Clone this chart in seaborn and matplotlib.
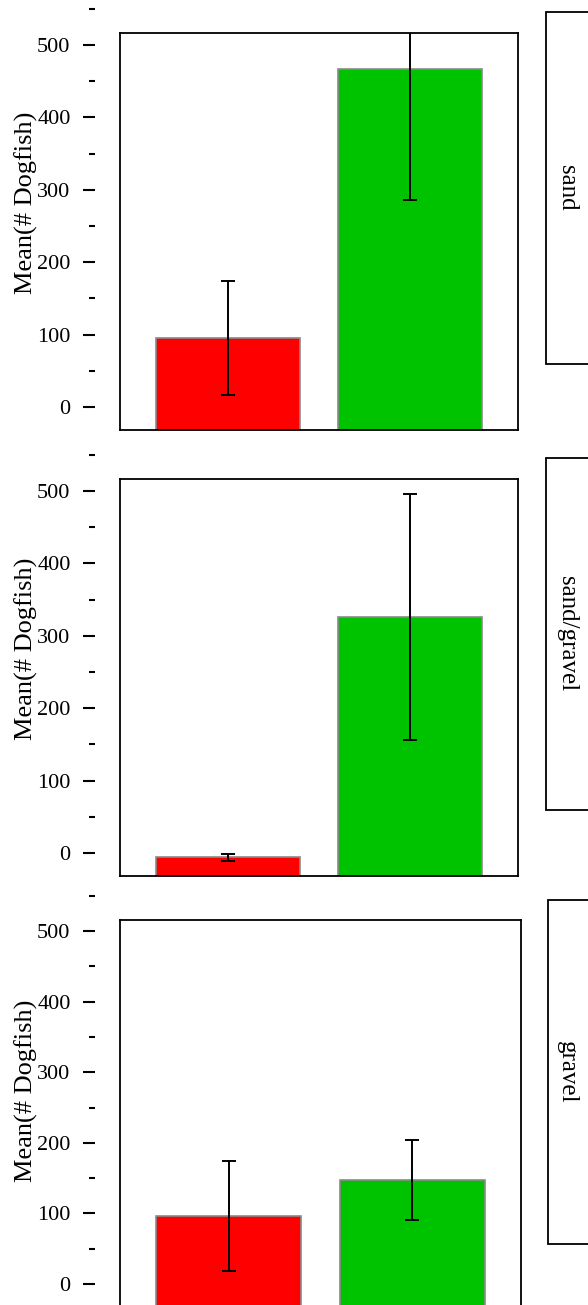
import matplotlib
matplotlib.use("Agg")
import matplotlib.pyplot as plt
from matplotlib.patches import Rectangle
from matplotlib.ticker import MultipleLocator
import seaborn as sns

# data
habitats = ["sand", "sand/gravel", "gravel"]
groups = ["group 1", "group 2"]
bar_colors = ["#ff0000", "#00c300"]
mean_sand = [95, 467]
err_sand = [79, 181]
mean_sandgravel = [-6, 326]
err_sandgravel = [5, 170]
mean_gravel = [96, 147]
err_gravel = [78, 57]
y_label = "Mean(# Dogfish)"

means = [mean_sand, mean_sandgravel, mean_gravel]
errs = [err_sand, err_sandgravel, err_gravel]

sns.set_theme(style="white")
plt.rcParams['font.family'] = ['Liberation Serif', 'DejaVu Serif']
plt.rcParams['text.color'] = 'black'
plt.rcParams['ytick.color'] = 'black'
plt.rcParams['ytick.labelcolor'] = 'black'

W, H = 588, 1305
fig = plt.figure(figsize=(W / 100, H / 100), dpi=100)

# layout in pixels: zero tick, 500 tick, box top/bottom/right, strip top/bottom/left, label centre
zero_px = [407, 853, 1284]
p500_px = [45, 491, 931]
box_top = [33, 479, 920]
box_bot = [430, 876, 1307]
box_right = [518, 518, 521]
strip_top = [12, 458, 900]
strip_bot = [364, 810, 1244]
strip_left = [546, 546, 548]
label_y = [203, 649, 1091]

for i in range(3):
    scale = (zero_px[i] - p500_px[i]) / 500.0
    ylo = (zero_px[i] - box_bot[i]) / scale
    yhi = (zero_px[i] - box_top[i]) / scale

    ax = fig.add_axes([120 / W, 1 - box_bot[i] / H,
                       (box_right[i] - 120) / W, (box_bot[i] - box_top[i]) / H])
    sns.barplot(x=groups, y=means[i], hue=groups, palette=bar_colors,
                saturation=1, width=0.79, edgecolor="#8a8a8a", linewidth=1.2,
                errorbar=None, legend=False, ax=ax)
    # bars start at the bottom of the box, as in the original
    for p in ax.patches:
        h = p.get_height()
        p.set_y(ylo)
        p.set_height(h - ylo)
    ax.errorbar(x=[0, 1], y=means[i], yerr=errs[i], fmt="none",
                ecolor="black", elinewidth=1.4, capsize=4.7, capthick=1.4)
    ax.set_xlim(-0.593, 1.593)
    ax.set_ylim(ylo, yhi)
    ax.set_xticks([])
    ax.set_yticks([])
    ax.set_xlabel("")
    ax.set_ylabel("")
    for s in ax.spines.values():
        s.set_visible(True)
        s.set_color("black")
        s.set_linewidth(1.3)

    # y axis drawn apart from the box
    ytop = 560
    top_px = zero_px[i] - ytop * scale
    axt = fig.add_axes([95 / W, 1 - box_bot[i] / H, 0.0001, (box_bot[i] - top_px) / H])
    axt.set_ylim(ylo, ytop)
    axt.patch.set_visible(False)
    for s in axt.spines.values():
        s.set_visible(False)
    axt.set_xticks([])
    axt.yaxis.set_major_locator(MultipleLocator(100))
    axt.yaxis.set_minor_locator(MultipleLocator(50))
    axt.tick_params(axis="y", which="major", left=True, length=8.6, width=1.5,
                    pad=9.0, labelsize=16, colors="black")
    axt.tick_params(axis="y", which="minor", left=True, length=4.3, width=1.5,
                    colors="black")

    fig.text(26.5 / W, 1 - label_y[i] / H, y_label, rotation=90,
             ha="center", va="center", fontsize=19, color="black")

    # strip on the right, cut off by the figure edge
    fig.add_artist(Rectangle((strip_left[i] / W, 1 - strip_bot[i] / H),
                             (640 - strip_left[i]) / W, (strip_bot[i] - strip_top[i]) / H,
                             transform=fig.transFigure, facecolor="white",
                             edgecolor="black", linewidth=1.3, clip_on=False))
    fig.text(567 / W, 1 - (strip_top[i] + strip_bot[i]) / 2 / H, habitats[i],
             rotation=-90, ha="center", va="center", fontsize=18, color="black")

fig.savefig("out.png", dpi=100)
